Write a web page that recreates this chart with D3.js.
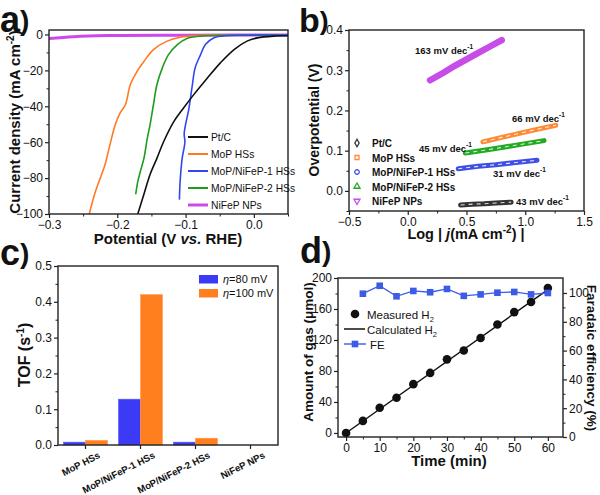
<!DOCTYPE html>
<html><head><meta charset="utf-8">
<script src="https://cdn.jsdelivr.net/npm/d3@7"></script>
<style>body{margin:0;background:#fff}svg text{font-family:"Liberation Sans",Arial,sans-serif;fill:#111}</style>
</head><body><svg id="chart" width="600" height="495"></svg>
<script>
// ---------- DATA ----------
const lsvNames = ["Pt/C","MoP HSs","MoP/NiFeP-1 HSs","MoP/NiFeP-2 HSs","NiFeP NPs"];
const lsvColors = ["#111111","#FF7A22","#3246F0","#1E9C1E","#CE48EE"];
const lsvPtC = [[-0.170,-100],[-0.161,-89],[-0.152,-78],[-0.142,-69],[-0.132,-59.6],[-0.117,-48.4],[-0.103,-41],[-0.088,-33.5],[-0.068,-24.2],[-0.049,-15.8],[-0.029,-8.4],[-0.010,-3.7],[0.005,-1.9],[0.029,-0.9],[0.051,-0.7]];
const lsvMoP = [[-0.241,-100],[-0.232,-87.5],[-0.218,-72.6],[-0.213,-65],[-0.203,-50.3],[-0.196,-43.8],[-0.188,-39],[-0.181,-28],[-0.171,-20.5],[-0.161,-15],[-0.147,-8.4],[-0.127,-3.7],[-0.108,-1.5],[-0.083,-0.6],[0.051,-0.3]];
const lsvNiFeP1 = [[-0.109,-92],[-0.108,-82],[-0.105,-69],[-0.101,-60],[-0.102,-55],[-0.095,-41],[-0.090,-28],[-0.086,-18.6],[-0.078,-11.2],[-0.071,-5.6],[-0.059,-1.9],[-0.039,-0.6],[-0.020,-0.4],[0.051,-0.3]];
const lsvNiFeP2 = [[-0.173,-89],[-0.170,-82],[-0.166,-76],[-0.161,-69],[-0.156,-57.7],[-0.152,-50.3],[-0.147,-39],[-0.142,-28],[-0.134,-18.6],[-0.125,-11.2],[-0.112,-5.6],[-0.098,-2.2],[-0.078,-0.9],[-0.049,-0.5],[0.051,-0.3]];
const lsvNiFeP = [[-0.300,-2.2],[-0.264,-1.2],[-0.215,-0.6],[-0.100,-0.4],[0.051,-0.3]];
const lsvData = [lsvPtC, lsvMoP, lsvNiFeP1, lsvNiFeP2, lsvNiFeP];
const lsvXTicks = [-0.3,-0.2,-0.1,0.0];
const lsvYTicks = [-100,-80,-60,-40,-20,0];

const tafelPtC = [[0.45,-0.035],[0.55,-0.033],[0.65,-0.032],[0.75,-0.030],[0.88,-0.028]];
const tafelMoP = [[0.64,0.122],[0.80,0.133],[0.95,0.143],[1.10,0.153],[1.26,0.163]];
const tafelNiFeP1 = [[0.43,0.055],[0.60,0.061],[0.75,0.065],[0.90,0.070],[1.10,0.076]];
const tafelNiFeP2 = [[0.49,0.094],[0.65,0.101],[0.80,0.108],[0.95,0.115],[1.16,0.125]];
const tafelNiFeP = [[0.19,0.275],[0.30,0.293],[0.40,0.311],[0.50,0.327],[0.60,0.343],[0.70,0.359],[0.80,0.375]];
const tafelData = [tafelPtC, tafelMoP, tafelNiFeP1, tafelNiFeP2, tafelNiFeP];
const tafelSlopes = ["43","66","31","45","163"];
const tafelXTicks = [-0.5,0.0,0.5,1.0,1.5];
const tafelYTicks = [0.0,0.1,0.2,0.3,0.4];

const tofCategories = ["MoP HSs","MoP/NiFeP-1 HSs","MoP/NiFeP-2 HSs","NiFeP NPs"];
const tof80 = [0.008,0.128,0.008,0.0];
const tof100 = [0.013,0.420,0.019,0.0];
const tofYTicks = [0.0,0.1,0.2,0.3,0.4,0.5];

const timeMin = [0,5,10,15,20,25,30,35,40,45,50,55,60];
const measuredH2 = [0,15.6,32.5,45.5,63,77.5,95,106.5,122.5,140,156,169,187];
const calcTime = [0,60];
const calcH2 = [0,185];
const feTime = [5,10,15,20,25,30,35,40,45,50,55,60];
const feValues = [99.5,105,97.7,101.4,100.5,102.8,98,99,100.2,100.7,99,100];
const gasTicks = [0,40,80,120,160,200];
const feTicks = [0,20,40,60,80,100];
const timeTicks = [0,10,20,30,40,50,60];

// ---------- HELPERS ----------
const svg = d3.select("#chart");
const FR = "#222";
function axis(g, scale, orient, major, minor, fmt, pos){
  const mk = orient==="left"?d3.axisLeft:(orient==="right"?d3.axisRight:d3.axisBottom);
  const tr = orient==="bottom"?`translate(0,${pos})`:`translate(${pos},0)`;
  const a = g.append("g").attr("transform",tr)
    .call(mk(scale).tickValues(major).tickSize(4).tickPadding(2).tickFormat(fmt));
  a.select(".domain").remove();
  a.selectAll("line").attr("stroke",FR).attr("stroke-width",1.2);
  a.selectAll("text").attr("font-size",12).attr("fill","#111").attr("font-family",null);
  if(minor){
    const m = g.append("g").attr("transform",tr)
      .call(mk(scale).tickValues(minor).tickSize(2.5).tickFormat(""));
    m.select(".domain").remove();
    m.selectAll("line").attr("stroke",FR).attr("stroke-width",1);
  }
  return a;
}
function frame(g,x0,x1,y0,y1){
  g.append("rect").attr("x",x0).attr("y",y0).attr("width",x1-x0).attr("height",y1-y0)
   .attr("fill","none").attr("stroke",FR).attr("stroke-width",1.4);
}
function panelLabel(x,y,ch,s){
  const t = svg.append("text").attr("x",x).attr("y",y).attr("font-weight","bold");
  t.append("tspan").attr("font-size",s||36).text(ch);
  t.append("tspan").attr("font-size",(s||36)*0.78).attr("dy",-2).text(")");
}
const fmt1 = d3.format(".1f");

// ---------- PANEL A ----------
{
  const g = svg.append("g");
  const x = d3.scaleLinear().domain([-0.3,0.05]).range([49,288]);
  const y = d3.scaleLinear().domain([-100,2.5]).range([214,30]);
  const minorX = [-0.25,-0.15,-0.05,0.05];
  const minorY = [-90,-70,-50,-30,-10];
  g.append("clipPath").attr("id","clipA").append("rect").attr("x",49).attr("y",30).attr("width",239).attr("height",184);
  const order = [4,1,3,2,0];
  order.forEach(i=>{
    g.append("path").datum(lsvData[i]).attr("d",d3.line().x(d=>x(d[0])).y(d=>y(d[1])).curve(d3.curveCatmullRom))
      .attr("fill","none").attr("stroke",lsvColors[i]).attr("stroke-width",i===4?3:1.6).attr("clip-path","url(#clipA)");
  });
  frame(g,49,288,30,214);
  axis(g,x,"bottom",lsvXTicks,minorX,fmt1,214);
  axis(g,y,"left",lsvYTicks,minorY,d3.format("d"),49);
  // legend
  lsvNames.forEach((n,i)=>{
    const yy = 137 + i*17;
    g.append("line").attr("x1",188).attr("x2",208).attr("y1",yy).attr("y2",yy).attr("stroke",lsvColors[i]).attr("stroke-width",i===4?3:2);
    g.append("text").attr("x",211).attr("y",yy+4).attr("font-size",10.3).attr("fill","#222").text(n);
  });
  const yl = g.append("text").attr("transform","translate(20,122) rotate(-90)").attr("text-anchor","middle").attr("font-size",15).attr("font-weight","bold");
  yl.append("tspan").text("Current density (mA cm");
  yl.append("tspan").attr("dy",-6).attr("font-size",10).text("-2");
  yl.append("tspan").attr("dy",6).text(")");
  const xl = g.append("text").attr("x",168).attr("y",243.5).attr("text-anchor","middle").attr("font-size",15).attr("font-weight","bold");
  xl.append("tspan").text("Potential (V ");
  xl.append("tspan").attr("font-style","italic").text("vs.");
  xl.append("tspan").text(" RHE)");
  panelLabel(0,32,"a");
}

// ---------- PANEL B ----------
{
  const g = svg.append("g");
  const x = d3.scaleLinear().domain([-0.5,1.5]).range([349,584]);
  const y = d3.scaleLinear().domain([-0.05,0.4]).range([211,30]);
  const line = d3.line().x(d=>x(d[0])).y(d=>y(d[1]));
  const bandCol = ["#333333","#FF8A33","#3F4FE6","#22AA22","#C84CE8"];
  tafelData.forEach((s,i)=>{
    g.append("path").datum(s).attr("d",line).attr("fill","none").attr("stroke",bandCol[i])
      .attr("stroke-width",i===4?6.5:5).attr("stroke-linecap","round");
    if(i!==4){
      g.append("path").datum(s).attr("d",line).attr("fill","none").attr("stroke","#fff")
        .attr("stroke-width",1.1).attr("stroke-dasharray","4,4").attr("opacity",0.85);
    }
  });
  frame(g,349,584,30,211);
  axis(g,x,"bottom",tafelXTicks,[-0.25,0.25,0.75,1.25],fmt1,211);
  axis(g,y,"left",tafelYTicks,[-0.05,0.05,0.15,0.25,0.35],fmt1,349);
  const slopePos = [[516,205],[512,122],[493,177],[419,152],[415,54]];
  tafelSlopes.forEach((s,i)=>{
    const t = g.append("text").attr("x",slopePos[i][0]).attr("y",slopePos[i][1]).attr("font-size",9.5).attr("font-weight","bold").attr("fill","#333");
    t.append("tspan").text(s+" mV dec");
    t.append("tspan").attr("dy",-5).attr("font-size",6.5).text("-1");
  });
  // legend
  const sym = [d3.symbolDiamond, d3.symbolSquare, d3.symbolCircle, d3.symbolTriangle, d3.symbolTriangle];
  lsvNames.forEach((n,i)=>{
    const yy = 143 + i*14.5;
    g.append("path").attr("d",d3.symbol(sym[i], 16)()).attr("transform",`translate(357,${yy})`+(i===4?" rotate(180)":""))
      .attr("fill","none").attr("stroke",bandCol[i]).attr("stroke-width",1.3);
    g.append("text").attr("x",372).attr("y",yy+4).attr("font-size",10).attr("font-weight","bold").attr("fill","#222").text(n);
  });
  g.append("text").attr("transform","translate(319,120) rotate(-90)").attr("text-anchor","middle").attr("font-size",14).attr("font-weight","bold").text("Overpotential (V)");
  const xl = g.append("text").attr("x",466).attr("y",239).attr("text-anchor","middle").attr("font-size",14.5).attr("font-weight","bold");
  xl.append("tspan").text("Log | ");
  xl.append("tspan").attr("font-style","italic").text("j");
  xl.append("tspan").text("(mA cm");
  xl.append("tspan").attr("dy",-6).attr("font-size",10).text("-2");
  xl.append("tspan").attr("dy",6).text(") |");
  panelLabel(299,32,"b",34);
}

// ---------- PANEL C ----------
{
  const g = svg.append("g");
  const x0 = d3.scaleBand().domain(tofCategories).range([58,278]).paddingInner(0.2).paddingOuter(0.1);
  const x1 = d3.scaleBand().domain(["80","100"]).range([0,x0.bandwidth()]);
  const y = d3.scaleLinear().domain([0,0.5]).range([445,266]);
  const barCols = {"80":"#3B3BF5","100":"#FF7F1E"};
  tofCategories.forEach((c,i)=>{
    [["80",tof80[i]],["100",tof100[i]]].forEach(([k,v])=>{
      g.append("rect").attr("x",x0(c)+x1(k)).attr("width",x1.bandwidth()).attr("y",y(v)).attr("height",y(0)-y(v))
        .attr("fill",barCols[k]).attr("stroke",k==="80"?"#5a5aff":"#ff9a55").attr("stroke-width",0.6);
    });
  });
  frame(g,58,278,266,445);
  axis(g,y,"left",tofYTicks,[0.05,0.15,0.25,0.35,0.45],fmt1,58);
  const xb = g.append("g");
  tofCategories.forEach(c=>{
    const cx = x0(c)+x0.bandwidth()/2;
    xb.append("line").attr("x1",cx).attr("x2",cx).attr("y1",445).attr("y2",449).attr("stroke",FR).attr("stroke-width",1.2);
    xb.append("text").attr("transform",`translate(${cx+12},${451}) rotate(-27)`).attr("text-anchor","end")
      .attr("font-size",9.6).attr("font-weight","bold").attr("dy","0.75em").text(c);
  });
  // legend
  [["80","=80 mV",275],["100","=100 mV",289]].forEach(([k,t,yy])=>{
    g.append("rect").attr("x",199).attr("y",yy).attr("width",19).attr("height",8.5).attr("fill",barCols[k]);
    const tx = g.append("text").attr("x",223).attr("y",yy+8).attr("font-size",11);
    tx.append("tspan").attr("font-style","italic").text("η");
    tx.append("tspan").text(t);
  });
  const yl = g.append("text").attr("transform","translate(30,355) rotate(-90)").attr("text-anchor","middle").attr("font-size",16).attr("font-weight","bold");
  yl.append("tspan").text("TOF (s");
  yl.append("tspan").attr("dy",-6).attr("font-size",10).text("-1");
  yl.append("tspan").attr("dy",6).text(")");
  panelLabel(0,265,"c");
}

// ---------- PANEL D ----------
{
  const g = svg.append("g");
  const x = d3.scaleLinear().domain([-2.4,64.5]).range([338,563]);
  const yL = d3.scaleLinear().domain([-5.2,200]).range([437,278]);
  const yR = d3.scaleLinear().domain([0,110.4]).range([437,278]);
  const FEc = "#3C5BE6";
  g.append("path").datum(calcTime.map((t,i)=>[t,calcH2[i]])).attr("d",d3.line().x(d=>x(d[0])).y(d=>yL(d[1])))
    .attr("stroke","#111").attr("stroke-width",1.4).attr("fill","none");
  g.selectAll(".mh").data(timeMin).enter().append("circle").attr("cx",d=>x(d)).attr("cy",(d,i)=>yL(measuredH2[i])).attr("r",4.3).attr("fill","#111");
  g.append("path").datum(feTime.map((t,i)=>[t,feValues[i]])).attr("d",d3.line().x(d=>x(d[0])).y(d=>yR(d[1])))
    .attr("stroke",FEc).attr("stroke-width",1.3).attr("fill","none");
  g.selectAll(".fe").data(feTime).enter().append("rect").attr("x",d=>x(d)-3.3).attr("y",(d,i)=>yR(feValues[i])-3.3)
    .attr("width",6.6).attr("height",6.6).attr("fill",FEc);
  frame(g,338,563,278,437);
  axis(g,x,"bottom",timeTicks,[5,15,25,35,45,55],d3.format("d"),437);
  axis(g,yL,"left",gasTicks,[20,60,100,140,180],d3.format("d"),338);
  axis(g,yR,"right",feTicks,[10,30,50,70,90],d3.format("d"),563);
  // legend
  g.append("circle").attr("cx",355).attr("cy",314).attr("r",4.3).attr("fill","#111");
  const t1 = g.append("text").attr("x",367).attr("y",318.5).attr("font-size",11.5);
  t1.append("tspan").text("Measured H"); t1.append("tspan").attr("dy",3).attr("font-size",7.5).text("2");
  g.append("line").attr("x1",344).attr("x2",365).attr("y1",329).attr("y2",329).attr("stroke","#111").attr("stroke-width",1.5);
  const t2 = g.append("text").attr("x",367).attr("y",333.5).attr("font-size",11.5);
  t2.append("tspan").text("Calculated H"); t2.append("tspan").attr("dy",3).attr("font-size",7.5).text("2");
  g.append("line").attr("x1",344).attr("x2",366).attr("y1",344).attr("y2",344).attr("stroke",FEc).attr("stroke-width",1.4);
  g.append("rect").attr("x",351.7).attr("y",340.7).attr("width",6.6).attr("height",6.6).attr("fill",FEc);
  g.append("text").attr("x",370).attr("y",348.5).attr("font-size",11.5).text("FE");
  g.append("text").attr("transform","translate(313,352) rotate(-90)").attr("text-anchor","middle").attr("font-size",13.5).attr("font-weight","bold").text("Amount of gas (μmol)");
  g.append("text").attr("transform","translate(587,358) rotate(90)").attr("text-anchor","middle").attr("font-size",13.5).attr("font-weight","bold").text("Faradaic efficiency (%)");
  g.append("text").attr("x",449).attr("y",466).attr("text-anchor","middle").attr("font-size",15).attr("font-weight","bold").text("Time (min)");
  panelLabel(300,263,"d");
}
</script></body></html>
